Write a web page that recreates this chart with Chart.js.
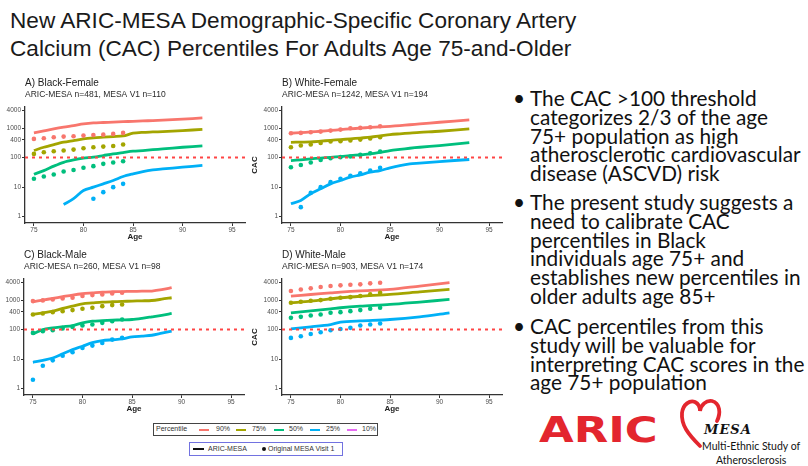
<!DOCTYPE html>
<html>
<head>
<meta charset="utf-8">
<script src="https://cdn.jsdelivr.net/npm/chart.js@4/dist/chart.umd.min.js"></script>
<style>
  html, body { margin: 0; padding: 0; background: #fff; }
  body { width: 808px; height: 466px; position: relative; overflow: hidden;
         font-family: "Liberation Sans", Arial, sans-serif; }
  .abs { position: absolute; white-space: nowrap; }
  #title { left: 10px; top: 7px; font-size: 22.6px; line-height: 28px; color: #1a1a1a; }
  .panel { position: absolute; }
  .bullets { font-family: Lato, "Open Sans", sans-serif; font-size: 20.8px; line-height: 18.7px; color: #111; }
  .bullets .dot { position: absolute; left: -17px; top: 0; }
  .lg { position: absolute; box-sizing: border-box; font-size: 7px; color: #333; }
  .lg span { position: absolute; top: 0; line-height: 10px; white-space: nowrap; }
  .lg i { position: absolute; display: block; }
</style>
</head>
<body>

<div id="title" class="abs">New ARIC-MESA Demographic-Specific Coronary Artery<br>Calcium (CAC) Percentiles For Adults Age 75-and-Older</div>

<canvas id="pA" class="panel" width="256" height="168" style="left:-7px;top:74px"></canvas>
<canvas id="pB" class="panel" width="256" height="168" style="left:250px;top:74px"></canvas>
<canvas id="pC" class="panel" width="256" height="168" style="left:-8px;top:246px"></canvas>
<canvas id="pD" class="panel" width="256" height="168" style="left:250px;top:246px"></canvas>

<!-- shared legends -->
<div class="lg" style="left:153px;top:423px;width:225px;height:13px;border:1.3px solid #444;">
  <span style="left:2px">Percentile</span>
  <i style="left:45px;top:4.5px;width:10px;height:2px;background:#F8766D"></i><span style="left:62px">90%</span>
  <i style="left:82px;top:4.5px;width:10px;height:2px;background:#A3A500"></i><span style="left:98px">75%</span>
  <i style="left:120px;top:4.5px;width:10px;height:2px;background:#00BF7D"></i><span style="left:135px">50%</span>
  <i style="left:156px;top:4.5px;width:10px;height:2px;background:#00B0F6"></i><span style="left:172px">25%</span>
  <i style="left:193px;top:4.5px;width:10px;height:2px;background:#E76BF3"></i><span style="left:208px">10%</span>
</div>
<div class="lg" style="left:189px;top:442px;width:154px;height:14px;border:1.3px solid #7272e0;">
  <i style="left:3px;top:4.8px;width:11px;height:2.4px;background:#111"></i><span style="left:18px;top:0.5px">ARIC-MESA</span>
  <i style="left:71.5px;top:4px;width:4px;height:4px;border-radius:50%;background:#111"></i><span style="left:78px;top:0.5px">Original MESA Visit 1</span>
</div>

<!-- key points -->
<div class="abs bullets" style="left:530px;top:89.3px"><span class="dot">•</span>The CAC &gt;100 threshold<br>categorizes 2/3 of the age<br>75+ population as high<br>atherosclerotic cardiovascular<br>disease (ASCVD) risk</div>
<div class="abs bullets" style="left:530px;top:193.3px"><span class="dot">•</span>The present study suggests a<br>need to calibrate CAC<br>percentiles in Black<br>individuals age 75+ and<br>establishes new percentiles in<br>older adults age 85+</div>
<div class="abs bullets" style="left:530px;top:317.3px"><span class="dot">•</span>CAC percentiles from this<br>study will be valuable for<br>interpreting CAC scores in the<br>age 75+ population</div>

<!-- study logos -->
<div class="abs" style="left:539px;top:413px;font-family:'DejaVu Sans',sans-serif;font-weight:bold;font-size:35px;line-height:34px;color:#e3262e;transform:scaleX(1.28);transform-origin:0 0;">ARIC</div>
<svg class="abs" style="left:678px;top:398px" width="48" height="52" viewBox="0 0 48 52">
  <path d="M22 48 C10 36 3 27 4 15 C5 6 12 2 17 4 C21 6 22 10 22 13 C23 7 28 2 34 3 C42 5 43 15 39 23"
        fill="none" stroke="#e3262e" stroke-width="3.8" stroke-linecap="round"/>
</svg>
<div class="abs" style="left:704px;top:423px;font-family:'DejaVu Serif',serif;font-style:italic;font-weight:bold;font-size:13px;line-height:14px;color:#111;letter-spacing:1px;">MESA</div>
<div class="abs" style="left:702px;top:440px;font-family:Lato,sans-serif;font-size:10.5px;line-height:12px;color:#111;">Multi-Ethnic Study of</div>
<div class="abs" style="left:716px;top:454px;font-family:Lato,sans-serif;font-size:10.5px;line-height:12px;color:#111;">Atherosclerosis</div>

<script>
// ---- percentile curves (ARIC-MESA) and original MESA Visit 1 points ----
const percentiles = ['90%', '75%', '50%', '25%'];
const xTicks = [75, 80, 85, 90, 95];
const yTicks = [1, 10, 100, 400, 1000, 4000];
const threshold = 100;
const dotAges = [75, 76, 77, 78, 79, 80, 81, 82, 83, 84];

// A) Black-Female
const bfAges = [75, 76, 77, 78, 79, 80, 81, 82, 83, 84, 85, 86, 87, 88, 90, 92];
const bf90 = [686, 800, 940, 1080, 1210, 1380, 1500, 1550, 1600, 1650, 1700, 1750, 1800, 1860, 2000, 2210];
const bf75 = [173, 224, 275, 331, 377, 430, 465, 490, 515, 540, 670, 720, 740, 760, 820, 910];
const bf50 = [27, 36, 51, 69, 83, 95, 103, 117, 133, 148, 164, 173, 185, 197, 224, 248];
const bf25 = [null, null, null, 2.55, 4, 7.6, 9.9, 12.8, 16.6, 22.7, 28, 33.5, 38, 41, 47, 54];
const bfDot90 = [430, 452, 490, 515, 530, 557, 585, 600, 635, 686];
const bfDot75 = [133, 152, 164, 173, 186, 207, 224, 235, 248, 276];
const bfDot50 = [19, 22.7, 26.5, 33.5, 38, 45, 51, 61, 68, 75];
const bfDot25 = [null, null, null, null, null, null, 4, 6.7, 9.9, 12.8];

// B) White-Female
const wfAges = [75, 76, 77, 78, 79, 80, 81, 82, 83, 84, 85, 86, 87, 88, 90, 93];
const wf90 = [668, 700, 742, 780, 830, 890, 940, 1000, 1050, 1100, 1150, 1220, 1300, 1380, 1580, 1890];
const wf75 = [330, 335, 340, 360, 385, 407, 430, 460, 490, 540, 600, 640, 680, 720, 780, 935];
const wf50 = [79, 84, 90, 96, 102, 108, 116, 124, 133, 150, 173, 190, 207, 224, 256, 323];
const wf25 = [2.7, 3.5, 5.9, 8.7, 12.8, 16.6, 21.5, 25.9, 31.8, 36, 44.8, 53.6, 61, 64.5, 73, 86];
const wfDot90 = [668, 686, 722, 760, 822, 890, 987, 1014, 1070, 1150];
const wfDot75 = [224, 256, 276, 314, 350, 358, 377, 407, 441, 490];
const wfDot50 = [47, 56, 68, 83, 95, 103, 108, 123, 140, 160];
const wfDot25 = [null, 2.07, 6.3, 9.9, 14.6, 19, 24, 29.4, 36, 45];

// C) Black-Male
const bmAges = [75, 76, 77, 78, 79, 80, 81, 82, 83, 84, 85, 86, 87, 88, 89];
const bm90 = [875, 1000, 1140, 1300, 1480, 1640, 1750, 1870, 1920, 1950, 1975, 2000, 2030, 2250, 2630];
const bm75 = [325, 370, 421, 520, 624, 750, 800, 853, 880, 900, 925, 945, 970, 1070, 1200];
const bm50 = [71, 100, 114, 125, 137, 169, 192, 200, 208, 213, 219, 240, 270, 305, 351];
const bm25 = [7.7, 9, 10.8, 15, 20.8, 27, 36, 42, 45, 48, 56, 60, 64, 75, 88];
const bmDot90 = [925, 975, 1050, 1140, 1205, 1370, 1480, 1560, 1690, 1780];
const bmDot75 = [325, 351, 390, 421, 457, 507, 550, 624, 676, 710];
const bmDot50 = [77, 88, 95, 108, 123, 137, 148, 169, 192, 219];
const bmDot25 = [1.97, 5.9, 9, 12.9, 16.9, 23.7, 28.5, 35, 45.6, 52];

// D) White-Male
const wmAges = [75, 77, 79, 80, 82, 85, 88, 91];
const wm90 = [1370, 1550, 1750, 1870, 2050, 2300, 3000, 3900];
const wm75 = [810, 925, 1100, 1200, 1350, 1560, 1900, 2300];
const wm50 = [370, 430, 500, 550, 620, 710, 860, 1050];
const wm25 = [105, 123, 148, 178, 197, 219, 270, 370];
const wmDot90 = [2030, 2300, 2500, 2770, 3000, 3160, 3320, 3420, 3700, 3900];
const wmDot75 = [810, 877, 950, 1000, 1110, 1200, 1260, 1370, 1560, 1780];
const wmDot50 = [250, 270, 300, 325, 370, 390, 421, 457, 507, 550];
const wmDot25 = [52, 59, 71, 81, 95, 105, 114, 137, 148, 160];

// ---- drawing ----
const FONT = '"Liberation Sans", Arial, sans-serif';
const COLORS = ['#F8766D', '#A3A500', '#00BF7D', '#00B0F6'];
const X_MIN = 74.1, X_MAX = 96.3;

function pairs(xs, ys) {
  return xs.map((x, i) => ({ x: x, y: ys[i] })).filter(p => p.y != null);
}

function axisStyle() {
  return {
    grid: { drawOnChartArea: false, drawTicks: true, tickLength: 3, color: '#333', lineWidth: 1 },
    border: { display: true, color: '#333', width: 1.3 },
  };
}

function makePanel(id, title, subtitle, ages, lines, dots) {
  const datasets = [];
  lines.forEach((vals, i) => {
    datasets.push({
      label: 'ARIC-MESA ' + percentiles[i],
      data: pairs(ages, vals),
      borderColor: COLORS[i], borderWidth: 2.8, pointRadius: 0,
      tension: 0.3, fill: false, order: 2
    });
  });
  dots.forEach((vals, i) => {
    datasets.push({
      label: 'MESA V1 ' + percentiles[i],
      data: pairs(dotAges, vals),
      showLine: false, pointRadius: 2.3, pointBorderWidth: 0,
      pointBackgroundColor: COLORS[i], borderColor: COLORS[i], order: 1
    });
  });
  datasets.push({
    label: 'CAC 100',
    data: [{ x: X_MIN, y: threshold }, { x: X_MAX, y: threshold }],
    borderColor: '#ff4545', borderWidth: 2, borderDash: [3, 4],
    pointRadius: 0, order: 0
  });

  new Chart(document.getElementById(id), {
    type: 'line',
    data: { datasets: datasets },
    options: {
      responsive: false, animation: false,
      layout: { padding: { left: 0, right: 3, top: 0, bottom: 0 } },
      plugins: {
        legend: { display: false }, tooltip: { enabled: false },
        title: { display: true, text: title, align: 'start', fullSize: false, color: '#222',
                 font: { family: FONT, size: 10, weight: 'normal' }, padding: { top: 3, bottom: 0 } },
        subtitle: { display: true, text: subtitle, align: 'start', fullSize: false, color: '#2a2a2a',
                    font: { family: FONT, size: 8.5 }, padding: { top: 1, bottom: 6.8 } }
      },
      scales: {
        x: Object.assign(axisStyle(), {
          type: 'linear', min: X_MIN, max: X_MAX,
          afterBuildTicks: ax => { ax.ticks = xTicks.map(v => ({ value: v })); },
          afterFit: s => { s.height = 19; },
          ticks: { autoSkip: false, maxRotation: 0, padding: 0.5, color: '#4d4d4d',
                   font: { family: FONT, size: 6.5 }, callback: v => String(v) },
          title: { display: true, text: 'Age', color: '#222',
                   font: { family: FONT, size: 8, weight: 'bold' }, padding: 0 }
        }),
        y: Object.assign(axisStyle(), {
          type: 'logarithmic', min: 0.6, max: 5200,
          afterBuildTicks: ax => { ax.ticks = yTicks.map(v => ({ value: v })); },
          afterFit: s => { s.width = 32; },
          ticks: { autoSkip: false, padding: 1, color: '#4d4d4d',
                   font: { family: FONT, size: 6.5 }, callback: v => String(v) },
          title: { display: true, text: 'CAC', color: '#222',
                   font: { family: FONT, size: 8, weight: 'bold' }, padding: 0 }
        })
      }
    }
  });
}

makePanel('pA', 'A) Black-Female', 'ARIC-MESA n=481, MESA V1 n=110',
          bfAges, [bf90, bf75, bf50, bf25], [bfDot90, bfDot75, bfDot50, bfDot25]);
makePanel('pB', 'B) White-Female', 'ARIC-MESA n=1242, MESA V1 n=194',
          wfAges, [wf90, wf75, wf50, wf25], [wfDot90, wfDot75, wfDot50, wfDot25]);
makePanel('pC', 'C) Black-Male', 'ARIC-MESA n=260, MESA V1 n=98',
          bmAges, [bm90, bm75, bm50, bm25], [bmDot90, bmDot75, bmDot50, bmDot25]);
makePanel('pD', 'D) White-Male', 'ARIC-MESA n=903, MESA V1 n=174',
          wmAges, [wm90, wm75, wm50, wm25], [wmDot90, wmDot75, wmDot50, wmDot25]);
</script>
</body>
</html>
